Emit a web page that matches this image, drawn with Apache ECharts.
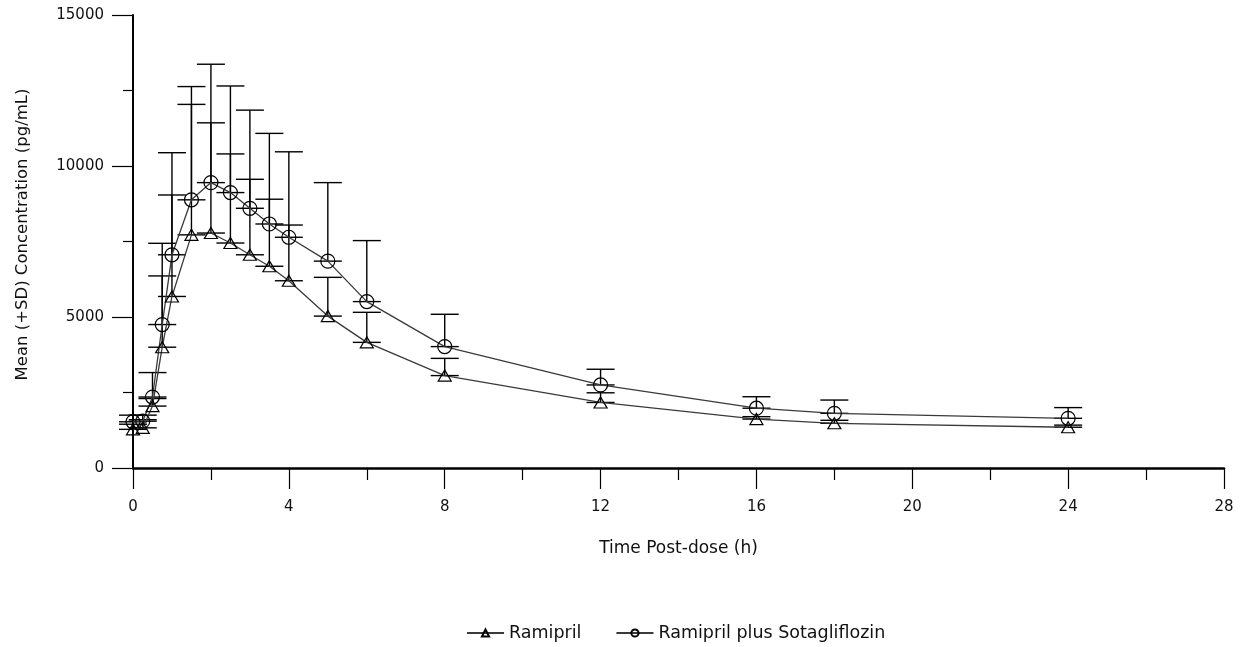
<!DOCTYPE html>
<html>
<head>
<meta charset="utf-8">
<title>Ramipril concentration-time profile</title>
<script src="https://cdn.jsdelivr.net/npm/echarts@6/dist/echarts.min.js"></script>
<style>
  html, body { margin: 0; padding: 0; background: #ffffff; }
  #chart { width: 1244px; height: 647px; }
</style>
</head>
<body>
<div id="chart"></div>
<script>
// Nominal sampling times (h post-dose)
const timeH = [0, 0.25, 0.5, 0.75, 1, 1.5, 2, 2.5, 3, 3.5, 4, 5, 6, 8, 12, 16, 18, 24];

// Ramipril alone: mean and SD (pg/mL)
const ramiprilMean = [1280, 1330, 2050, 4000, 5680, 7720, 7780, 7450, 7060, 6680, 6200, 5030, 4160, 3060, 2170, 1620, 1480, 1350];
const ramiprilSD   = [170, 270, 250, 2360, 3360, 4320, 3650, 2950, 2500, 2220, 1845, 1283, 995, 570, 320, 80, 100, 70];

// Ramipril co-administered with sotagliflozin: mean and SD (pg/mL)
const comboMean = [1530, 1550, 2350, 4750, 7060, 8880, 9450, 9120, 8600, 8080, 7640, 6850, 5510, 4020, 2750, 1980, 1810, 1645];
const comboSD   = [220, 200, 810, 2690, 3380, 3750, 3920, 3530, 3250, 3000, 2830, 2600, 2020, 1070, 520, 380, 440, 355];

const seriesNames = ['Ramipril', 'Ramipril plus Sotagliflozin'];
const xTicks = { min: 0, max: 28, step: 4 };
const yTicks = { min: 0, max: 15000, step: 5000 };

const FONT = 'DejaVu Sans';
const INK = '#111111';

const meanPairs = (means) => timeH.map((t, i) => [t, means[i]]);
const barTriples = (means, sds) => timeH.map((t, i) => [t, means[i], means[i] + sds[i]]);

// Upper (+SD) error bar: stem from the mean up to mean+SD, capped at both ends
function renderSdBar(params, api) {
  const x = api.value(0);
  const base = api.coord([x, api.value(1)]);
  const top = api.coord([x, api.value(2)]);
  const half = 14;
  const style = { stroke: '#000', lineWidth: 1.4 };
  return {
    type: 'group',
    children: [
      { type: 'line', shape: { x1: base[0], y1: base[1], x2: top[0], y2: top[1] }, style },
      { type: 'line', shape: { x1: base[0] - half, y1: base[1], x2: base[0] + half, y2: base[1] }, style },
      { type: 'line', shape: { x1: top[0] - half, y1: top[1], x2: top[0] + half, y2: top[1] }, style }
    ]
  };
}

const chart = echarts.init(document.getElementById('chart'), null, { renderer: 'canvas' });

chart.setOption({
  animation: false,
  backgroundColor: '#ffffff',
  textStyle: { fontFamily: FONT, color: INK },
  grid: { left: 133, right: 20, top: 15, bottom: 179, containLabel: false },
  legend: {
    data: seriesNames,
    top: 619,
    left: 461,
    itemWidth: 37,
    itemHeight: 9,
    itemGap: 34,
    textStyle: { fontFamily: FONT, fontSize: 17.5, color: INK },
    selectedMode: false
  },
  xAxis: {
    type: 'value',
    min: xTicks.min,
    max: xTicks.max,
    interval: xTicks.step,
    name: 'Time Post-dose (h)',
    nameLocation: 'middle',
    nameGap: 72,
    nameTextStyle: { fontFamily: FONT, fontSize: 17, color: INK },
    axisLine: { show: true, onZero: false, lineStyle: { color: '#000', width: 2.5 } },
    axisTick: { show: true, inside: false, length: 21, lineStyle: { color: '#000', width: 1.2 } },
    minorTick: { show: true, splitNumber: 2, length: 12, lineStyle: { color: '#000', width: 1.2 } },
    axisLabel: { margin: 32, fontFamily: FONT, fontSize: 15, color: INK },
    splitLine: { show: false },
    minorSplitLine: { show: false }
  },
  yAxis: {
    type: 'value',
    min: yTicks.min,
    max: yTicks.max,
    interval: yTicks.step,
    name: 'Mean (+SD) Concentration (pg/mL)',
    nameLocation: 'middle',
    nameGap: 102,
    nameRotate: 90,
    nameTextStyle: { fontFamily: FONT, fontSize: 16.5, color: INK, padding: [0, 0, 0, 14] },
    axisLine: { show: true, lineStyle: { color: '#000', width: 2 } },
    axisTick: { show: true, inside: false, length: 21, lineStyle: { color: '#000', width: 1.2 } },
    minorTick: { show: true, splitNumber: 2, length: 10, lineStyle: { color: '#000', width: 1.2 } },
    axisLabel: { margin: 29, fontFamily: FONT, fontSize: 15, color: INK, formatter: (v) => String(v) },
    splitLine: { show: false },
    minorSplitLine: { show: false }
  },
  series: [
    {
      name: 'Ramipril SD',
      type: 'custom',
      renderItem: renderSdBar,
      encode: { x: 0, y: [1, 2] },
      data: barTriples(ramiprilMean, ramiprilSD),
      silent: true,
      z: 3
    },
    {
      name: 'Ramipril plus Sotagliflozin SD',
      type: 'custom',
      renderItem: renderSdBar,
      encode: { x: 0, y: [1, 2] },
      data: barTriples(comboMean, comboSD),
      silent: true,
      z: 3
    },
    {
      name: seriesNames[0],
      type: 'line',
      data: meanPairs(ramiprilMean),
      symbol: 'triangle',
      symbolSize: [13, 11],
      showAllSymbol: true,
      lineStyle: { color: '#3a3a3a', width: 1.3 },
      itemStyle: { color: 'rgba(255,255,255,0)', borderColor: '#000', borderWidth: 1.2 },
      emphasis: { disabled: true },
      silent: true,
      z: 4
    },
    {
      name: seriesNames[1],
      type: 'line',
      data: meanPairs(comboMean),
      symbol: 'circle',
      symbolSize: 14,
      showAllSymbol: true,
      lineStyle: { color: '#3a3a3a', width: 1.3 },
      itemStyle: { color: 'rgba(255,255,255,0)', borderColor: '#000', borderWidth: 1.2 },
      emphasis: { disabled: true },
      silent: true,
      z: 4
    }
  ]
});
</script>
</body>
</html>
